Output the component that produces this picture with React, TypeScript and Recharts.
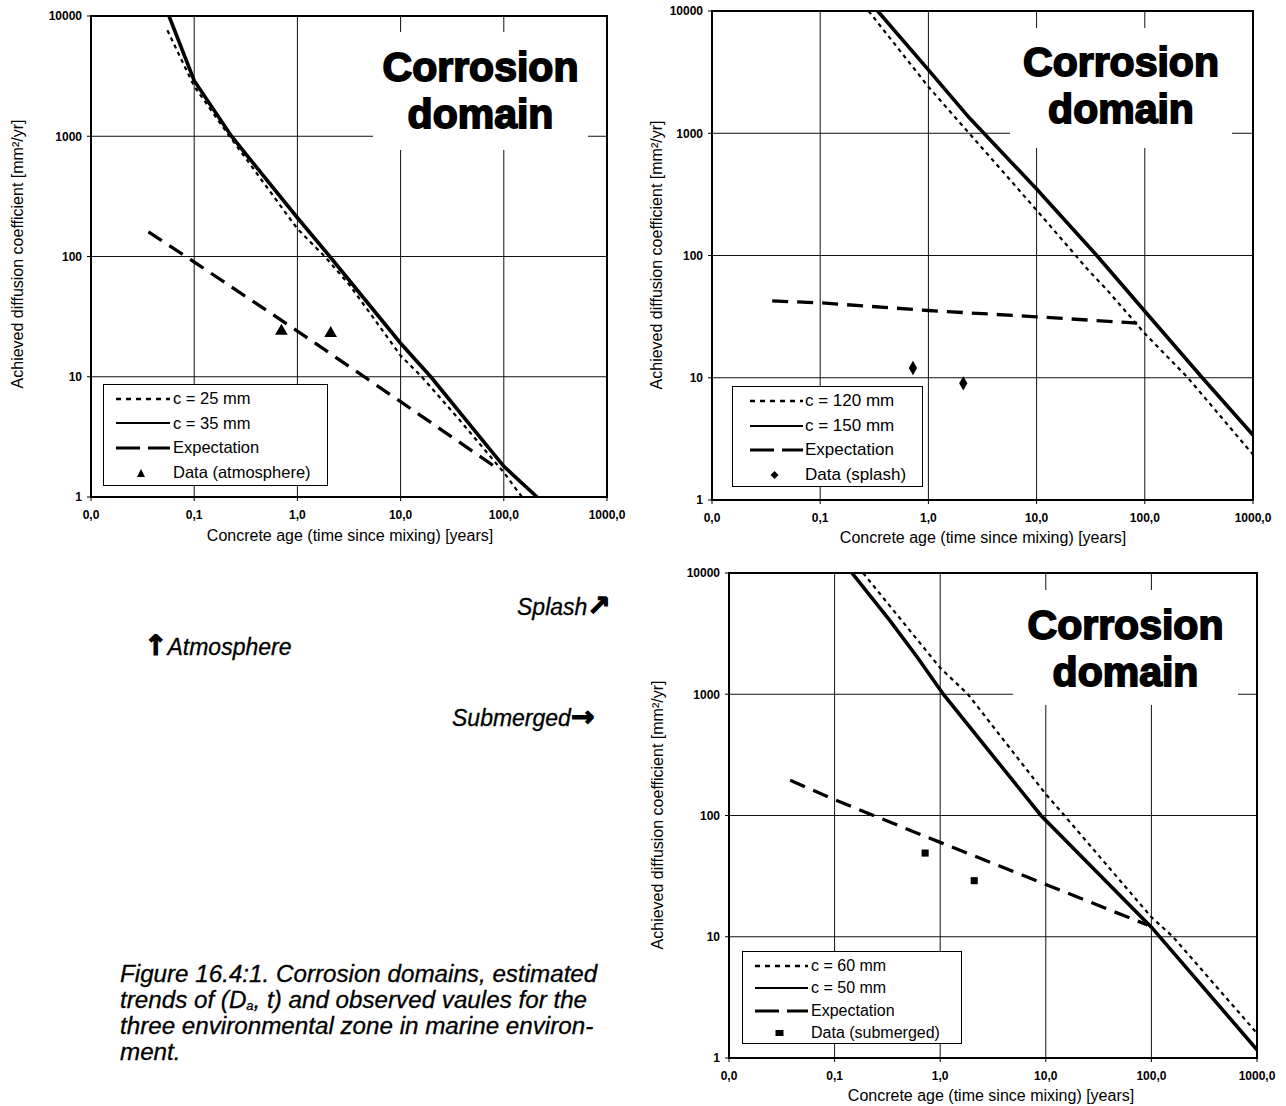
import React from "react";
import {
  ComposedChart,
  Line,
  Scatter,
  XAxis,
  YAxis,
  ZAxis,
  CartesianGrid,
  ReferenceArea,
  Legend,
} from "recharts";

type Pt = { t: number; d: number };

const ageTicks = [0.01, 0.1, 1, 10, 100, 1000];
const coefTicks = [1, 10, 100, 1000, 10000];

// atmosphere zone
const atmCover25: Pt[] = [
  { t: 0.055, d: 7600 },
  { t: 0.1, d: 2600 },
  { t: 0.22, d: 1000 },
  { t: 1, d: 170 },
  { t: 1.84, d: 100 },
  { t: 3.2, d: 58 },
  { t: 10, d: 15 },
  { t: 16, d: 10 },
  { t: 37, d: 4.4 },
  { t: 100, d: 1.6 },
  { t: 150, d: 1 },
];
const atmCover35: Pt[] = [
  { t: 0.057, d: 10000 },
  { t: 0.1, d: 2900 },
  { t: 0.23, d: 1000 },
  { t: 1, d: 210 },
  { t: 2.06, d: 100 },
  { t: 10, d: 19 },
  { t: 19.6, d: 10 },
  { t: 100, d: 1.8 },
  { t: 210, d: 1 },
];
const atmExpected: Pt[] = [
  { t: 0.036, d: 160 },
  { t: 0.1, d: 90 },
  { t: 1, d: 24 },
  { t: 10, d: 6.2 },
  { t: 85, d: 1.75 },
];
const atmObserved: Pt[] = [
  { t: 0.7, d: 24 },
  { t: 2.1, d: 23 },
];

// splash zone
const splCover120: Pt[] = [
  { t: 0.28, d: 10000 },
  { t: 1, d: 2400 },
  { t: 10, d: 235 },
  { t: 30, d: 76 },
  { t: 45, d: 52 },
  { t: 100, d: 23 },
  { t: 250, d: 10 },
  { t: 1000, d: 2.35 },
];
const splCover150: Pt[] = [
  { t: 0.34, d: 10000 },
  { t: 1, d: 3300 },
  { t: 2.4, d: 1330 },
  { t: 10, d: 350 },
  { t: 36, d: 100 },
  { t: 100, d: 35 },
  { t: 340, d: 10 },
  { t: 1000, d: 3.4 },
];
const splExpected: Pt[] = [
  { t: 0.036, d: 42.5 },
  { t: 0.1, d: 41 },
  { t: 1, d: 35.5 },
  { t: 10, d: 31.5 },
  { t: 85, d: 28 },
];
const splObserved: Pt[] = [
  { t: 0.72, d: 12 },
  { t: 2.1, d: 9 },
];

// submerged zone
const subCover60: Pt[] = [
  { t: 0.186, d: 10000 },
  { t: 1, d: 1650 },
  { t: 1.83, d: 1000 },
  { t: 10, d: 150 },
  { t: 15, d: 100 },
  { t: 100, d: 14.5 },
  { t: 160, d: 10 },
  { t: 1000, d: 1.6 },
];
const subCover50: Pt[] = [
  { t: 0.146, d: 10000 },
  { t: 0.33, d: 4100 },
  { t: 0.6, d: 2050 },
  { t: 1.07, d: 1000 },
  { t: 9, d: 100 },
  { t: 100, d: 12 },
  { t: 1000, d: 1.17 },
];
const subExpected: Pt[] = [
  { t: 0.038, d: 195 },
  { t: 0.1, d: 135 },
  { t: 1, d: 60 },
  { t: 10, d: 27 },
  { t: 92, d: 12.5 },
];
const subObserved: Pt[] = [
  { t: 0.72, d: 49 },
  { t: 2.1, d: 29 },
];

const FONT = "'Liberation Sans', Arial, Helvetica, sans-serif";
const DOTTED = "4 4";
const DASHED = "16 9";

type Kind = "dotted" | "solid" | "dashed" | "triangle" | "diamond" | "square";
type LegendItem = { label: string; kind: Kind };

const Swatch = ({ kind, w }: { kind: Kind; w: number }) => {
  const lineProps: Record<string, any> = {
    dotted: { strokeDasharray: "5 5", strokeWidth: 2.5 },
    solid: { strokeWidth: 2.2 },
    dashed: { strokeDasharray: "24 8", strokeWidth: 3 },
  };
  const c = w / 2 - 2;
  return (
    <svg width={w} height={12} style={{ display: "block", flex: "none" }}>
      {kind in lineProps && (
        <line x1={0} x2={w} y1={6} y2={6} stroke="#000" {...lineProps[kind]} />
      )}
      {kind === "triangle" && <polygon points={`${c - 4},10 ${c + 4},10 ${c},2`} fill="#000" />}
      {kind === "diamond" && <polygon points={`${c},2 ${c + 4},6 ${c},10 ${c - 4},6`} fill="#000" />}
      {kind === "square" && <rect x={c - 4} y={3} width={8} height={6} fill="#000" />}
    </svg>
  );
};

const LegendBox = ({
  items,
  width,
  height,
  padLeft,
  swatch,
  gap,
  rowH,
  padTop,
  fontSize,
}: {
  items: LegendItem[];
  width: number;
  height: number;
  padLeft: number;
  swatch: number;
  gap: number;
  rowH: number;
  padTop: number;
  fontSize: number;
}) => (
  <div
    style={{
      width,
      height,
      boxSizing: "border-box",
      border: "1px solid #000",
      background: "#fff",
      paddingTop: padTop,
      paddingLeft: padLeft,
      fontFamily: FONT,
      fontSize,
      color: "#000",
    }}
  >
    {items.map((it) => (
      <div key={it.label} style={{ display: "flex", alignItems: "center", height: rowH }}>
        <Swatch kind={it.kind} w={swatch} />
        <span style={{ marginLeft: gap, whiteSpace: "nowrap" }}>{it.label}</span>
      </div>
    ))}
  </div>
);

type PanelProps = {
  left: number;
  top: number;
  width: number;
  height: number;
  margin: { top: number; right: number; bottom: number; left: number };
  dotted: Pt[];
  solid: Pt[];
  expected: Pt[];
  observed: Pt[];
  shape: "triangle" | "diamond" | "square";
  markSize: number;
  legendItems: LegendItem[];
  legendBox: {
    x: number;
    y: number;
    w: number;
    h: number;
    padLeft: number;
    swatch: number;
    gap: number;
    rowH: number;
    padTop: number;
    fontSize: number;
  };
};

const xTick = (v: number) => v.toFixed(1).replace(".", ",");

const Panel = (p: PanelProps) => (
  <div style={{ position: "absolute", left: p.left, top: p.top }}>
    <ComposedChart width={p.width} height={p.height} margin={p.margin}>
      <CartesianGrid stroke="#111" strokeWidth={1} />
      <XAxis
        type="number"
        dataKey="t"
        scale="log"
        domain={[0.01, 1000]}
        ticks={ageTicks}
        tickFormatter={xTick}
        allowDataOverflow
        height={30}
        axisLine={{ stroke: "#000", strokeWidth: 2 }}
        tickLine={{ stroke: "#000" }}
        tickSize={4}
        tickMargin={9}
        tick={{ fill: "#000", fontSize: 12, fontWeight: 700, fontFamily: FONT }}
        interval={0}
      />
      <YAxis
        type="number"
        dataKey="d"
        scale="log"
        domain={[1, 10000]}
        ticks={coefTicks}
        allowDataOverflow
        width={60}
        axisLine={{ stroke: "#000", strokeWidth: 2 }}
        tickLine={{ stroke: "#000" }}
        tickSize={4}
        tickMargin={5}
        tick={{ fill: "#000", fontSize: 12, fontWeight: 700, fontFamily: FONT }}
        interval={0}
      />
      <ZAxis range={[p.markSize, p.markSize]} />
      <ReferenceArea x1={0.01} x2={1000} y1={1} y2={10000} fill="none" stroke="#000" strokeWidth={2} />
      <Line data={p.expected} dataKey="d" type="linear" stroke="#000" strokeWidth={3.3} strokeDasharray={DASHED} dot={false} isAnimationActive={false} />
      <Line data={p.dotted} dataKey="d" type="linear" stroke="#000" strokeWidth={2.2} strokeDasharray={DOTTED} dot={false} isAnimationActive={false} />
      <Line data={p.solid} dataKey="d" type="linear" stroke="#000" strokeWidth={3.6} dot={false} isAnimationActive={false} />
      <Scatter data={p.observed} dataKey="d" shape={p.shape} fill="#000" isAnimationActive={false} />
      <Legend
        layout="vertical"
        align="center"
        verticalAlign="middle"
        wrapperStyle={{ left: p.legendBox.x - p.left, top: p.legendBox.y - p.top, width: p.legendBox.w, height: p.legendBox.h }}
        content={() => (
          <LegendBox
            items={p.legendItems}
            width={p.legendBox.w}
            height={p.legendBox.h}
            padLeft={p.legendBox.padLeft}
            swatch={p.legendBox.swatch}
            gap={p.legendBox.gap}
            rowH={p.legendBox.rowH}
            padTop={p.legendBox.padTop}
            fontSize={p.legendBox.fontSize}
          />
        )}
      />
    </ComposedChart>
  </div>
);

const DomainLabel = ({ x, y, w, h, pad }: { x: number; y: number; w: number; h: number; pad: number }) => (
  <div
    style={{
      position: "absolute",
      left: x,
      top: y,
      width: w,
      height: h,
      boxSizing: "border-box",
      paddingTop: pad,
      background: "#fff",
      textAlign: "center",
      fontFamily: FONT,
      fontWeight: 700,
      fontSize: 41,
      lineHeight: "47px",
      WebkitTextStroke: "1.8px #000",
      color: "#000",
    }}
  >
    Corrosion
    <br />
    domain
  </div>
);

const XTitle = ({ cx, cy }: { cx: number; cy: number }) => (
  <div
    style={{
      position: "absolute",
      left: cx,
      top: cy,
      transform: "translate(-50%, -50%)",
      whiteSpace: "nowrap",
      fontFamily: FONT,
      fontSize: 16,
      color: "#000",
    }}
  >
    Concrete age (time since mixing) [years]
  </div>
);

const YTitle = ({ cx, cy }: { cx: number; cy: number }) => (
  <div
    style={{
      position: "absolute",
      left: cx,
      top: cy,
      transform: "translate(-50%, -50%) rotate(-90deg)",
      whiteSpace: "nowrap",
      fontFamily: FONT,
      fontSize: 16,
      color: "#000",
    }}
  >
    Achieved diffusion coefficient [mm²/yr]
  </div>
);

const noteStyle: React.CSSProperties = {
  position: "absolute",
  whiteSpace: "nowrap",
  fontFamily: FONT,
  fontStyle: "italic",
  fontSize: 23,
  color: "#000",
  WebkitTextStroke: "0.3px #000",
};
const arrowStyle: React.CSSProperties = {
  fontFamily: "'DejaVu Sans', sans-serif",
  fontStyle: "normal",
  fontWeight: 700,
  fontSize: 28,
  WebkitTextStroke: "1.2px #000",
};

export default function App() {
  return (
    <div style={{ position: "absolute", left: 0, top: 0, width: 1286, height: 1106, background: "#fff" }}>
      <Panel
        left={0}
        top={0}
        width={640}
        height={550}
        margin={{ top: 16, right: 33, left: 31, bottom: 23 }}
        dotted={atmCover25}
        solid={atmCover35}
        expected={atmExpected}
        observed={atmObserved}
        shape="triangle"
        markSize={70}
        legendItems={[
          { label: "c = 25 mm", kind: "dotted" },
          { label: "c = 35 mm", kind: "solid" },
          { label: "Expectation", kind: "dashed" },
          { label: "Data (atmosphere)", kind: "triangle" },
        ]}
        legendBox={{ x: 103, y: 384, w: 225, h: 102, padLeft: 12, swatch: 54, gap: 3, rowH: 24.6, padTop: 1.5, fontSize: 16.5 }}
      />
      <Panel
        left={645}
        top={0}
        width={641}
        height={550}
        margin={{ top: 11, right: 33, left: 7, bottom: 20 }}
        dotted={splCover120}
        solid={splCover150}
        expected={splExpected}
        observed={splObserved}
        shape="diamond"
        markSize={60}
        legendItems={[
          { label: "c = 120 mm", kind: "dotted" },
          { label: "c = 150 mm", kind: "solid" },
          { label: "Expectation", kind: "dashed" },
          { label: "Data (splash)", kind: "diamond" },
        ]}
        legendBox={{ x: 732, y: 386, w: 191, h: 101, padLeft: 17, swatch: 53, gap: 2, rowH: 24.7, padTop: 1.5, fontSize: 17 }}
      />
      <Panel
        left={645}
        top={560}
        width={641}
        height={546}
        margin={{ top: 13, right: 29, left: 24, bottom: 18 }}
        dotted={subCover60}
        solid={subCover50}
        expected={subExpected}
        observed={subObserved}
        shape="square"
        markSize={50}
        legendItems={[
          { label: "c = 60 mm", kind: "dotted" },
          { label: "c = 50 mm", kind: "solid" },
          { label: "Expectation", kind: "dashed" },
          { label: "Data (submerged)", kind: "square" },
        ]}
        legendBox={{ x: 742, y: 951, w: 220, h: 93, padLeft: 12, swatch: 53, gap: 3, rowH: 22.4, padTop: 2.8, fontSize: 16 }}
      />

      <DomainLabel x={373} y={32} w={215} h={118} pad={12} />
      <DomainLabel x={1010} y={28} w={222} h={120} pad={11} />
      <DomainLabel x={1013} y={590} w={225} h={115} pad={12} />

      <XTitle cx={350} cy={536} />
      <XTitle cx={983} cy={538} />
      <XTitle cx={991} cy={1096} />
      <YTitle cx={18} cy={254} />
      <YTitle cx={657} cy={255} />
      <YTitle cx={658} cy={815} />

      <div style={{ ...noteStyle, left: 517, top: 589 }}>
        Splash<span style={arrowStyle}>↗</span>
      </div>
      <div style={{ ...noteStyle, left: 144, top: 629 }}>
        <span style={arrowStyle}>↑</span>Atmosphere
      </div>
      <div style={{ ...noteStyle, left: 452, top: 700 }}>
        Submerged<span style={arrowStyle}>→</span>
      </div>

      <div
        style={{
          position: "absolute",
          left: 120,
          top: 961,
          fontFamily: FONT,
          fontStyle: "italic",
          fontSize: 24.2,
          lineHeight: "26px",
          color: "#000",
          WebkitTextStroke: "0.3px #000",
          whiteSpace: "nowrap",
        }}
      >
        Figure 16.4:1. Corrosion domains, estimated
        <br />
        trends of (D
        <span style={{ fontSize: 13, lineHeight: 0, position: "relative", top: 2 }}>a</span>, t) and observed vaules for the
        <br />
        three environmental zone in marine environ-
        <br />
        ment.
      </div>
    </div>
  );
}
